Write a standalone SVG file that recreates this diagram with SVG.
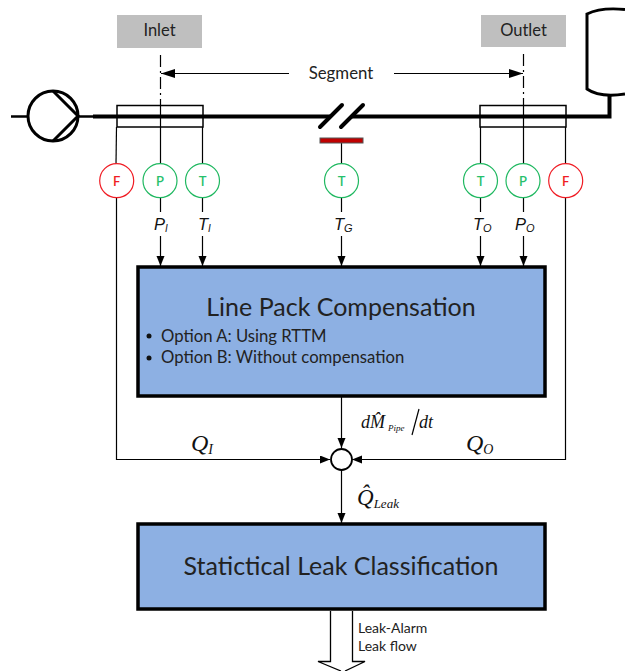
<svg xmlns="http://www.w3.org/2000/svg" width="625" height="671" viewBox="0 0 625 671">
<style>
.s{font-family:Lato,"Open Sans",sans-serif;fill:#222}
.m{font-family:"Liberation Serif",serif;font-style:italic;fill:#111}
.i{font-family:"Liberation Sans",sans-serif;font-style:italic;fill:#111}
.l{stroke:#000;stroke-width:1.2;fill:none}
.g{fill:#bfbfbf}
.b{fill:#8db0e3;stroke:#000;stroke-width:3.5}
.sg{fill:#fff;stroke:#1fb860;stroke-width:1.2}
.sr{fill:#fff;stroke:#f01c24;stroke-width:1.2}
.tg{font-family:Lato,sans-serif;font-size:13px;font-weight:600;fill:#26c06c;text-anchor:middle}
.tr{font-family:Lato,sans-serif;font-size:13px;font-weight:600;fill:#f01c24;text-anchor:middle}
</style>
<defs>
<marker id="a" markerWidth="12" markerHeight="10" refX="10" refY="4" orient="auto" markerUnits="userSpaceOnUse"><path d="M0 0L10 4L0 8z" fill="#000"/></marker>
<marker id="A" markerWidth="15" markerHeight="10" refX="14" refY="4.5" orient="auto" markerUnits="userSpaceOnUse"><path d="M0 0L14 4.5L0 9z" fill="#000"/></marker>
</defs>
<g id="connectors">
<path class="l" d="M160.500 55V105" stroke-dasharray="12 4 2 4"/>
<path class="l" d="M523.500 54V105" stroke-dasharray="12 4 2 4"/>
<path class="l" d="M289 73.500H161" marker-end="url(#A)"/>
<path class="l" d="M394 73.500H523" marker-end="url(#A)"/>
<path class="l" d="M116.500 127L116 164"/>
<path class="l" d="M160.500 105V164"/>
<path class="l" d="M202.500 127V164"/>
<path class="l" d="M341.500 143V164"/>
<path class="l" d="M480.500 127V164"/>
<path class="l" d="M523.500 105V164"/>
<path class="l" d="M565.500 127V164"/>
<path class="l" d="M160.500 198V212M160.500 236V266" marker-end="url(#a)"/>
<path class="l" d="M202.500 198V212M202.500 236V266" marker-end="url(#a)"/>
<path class="l" d="M341.500 198V212M341.500 236V266" marker-end="url(#a)"/>
<path class="l" d="M480.500 198V212M480.500 236V266" marker-end="url(#a)"/>
<path class="l" d="M523.500 198V212M523.500 236V266" marker-end="url(#a)"/>
<path class="l" d="M116.500 198V459.500H330" marker-end="url(#a)"/>
<path class="l" d="M565.500 198V459.500H352" marker-end="url(#a)"/>
<path class="l" d="M341.500 396V448" marker-end="url(#a)"/>
<path class="l" d="M341.500 470V523" marker-end="url(#a)"/>
</g>
<g id="pipe" fill="none" stroke="#000">
<path d="M11 116.500H28" stroke-width="2.500"/>
<circle cx="53" cy="116" r="25" stroke-width="3" fill="#fff"/>
<path d="M53 91L78 116L53 141" stroke-width="3"/>
<path d="M78 116.500H93" stroke-width="2.500"/>
<path d="M93 116.500H331" stroke-width="4"/>
<path d="M352 116.500H609.500V95" stroke-width="4"/>
<path d="M625 9.500C610 8 597 9 587 14V89C597 96 612 96 625 94" stroke-width="3"/>
<path d="M320 127L342 105M341 127L363 105" stroke-width="4" stroke-linecap="round"/>
</g>
<g id="inlet-section"><rect x="117" y="105.500" width="86" height="21.500" fill="none" stroke="#000" stroke-width="1.500"/></g>
<g id="outlet-section"><rect x="480" y="105.500" width="86" height="21.500" fill="none" stroke="#000" stroke-width="1.500"/></g>
<g id="heater"><rect x="320" y="138" width="43" height="5" fill="#c00000" stroke="#555" stroke-width="1"/></g>
<g id="inlet"><rect class="g" x="117" y="15" width="85" height="33"/><text class="s" x="159.500" y="36" font-size="16.500" text-anchor="middle">Inlet</text></g>
<g id="outlet"><rect class="g" x="481" y="15" width="85" height="32"/><text class="s" x="523.500" y="36" font-size="16.500" text-anchor="middle">Outlet</text></g>
<g id="segment"><text class="s" x="341" y="79" font-size="16.800" text-anchor="middle">Segment</text></g>
<g id="sensor-fi"><circle class="sr" cx="116.700" cy="180.700" r="17"/><text class="tr" x="116.700" y="185.500">F</text></g>
<g id="sensor-pi"><circle class="sg" cx="160" cy="180.700" r="17"/><text class="tg" x="160" y="185.500">P</text></g>
<g id="sensor-ti"><circle class="sg" cx="202.500" cy="180.700" r="17"/><text class="tg" x="202.500" y="185.500">T</text></g>
<g id="sensor-tg"><circle class="sg" cx="341.500" cy="180.700" r="17"/><text class="tg" x="341.500" y="185.500">T</text></g>
<g id="sensor-to"><circle class="sg" cx="480.500" cy="180.700" r="17"/><text class="tg" x="480.500" y="185.500">T</text></g>
<g id="sensor-po"><circle class="sg" cx="523" cy="180.700" r="17"/><text class="tg" x="523" y="185.500">P</text></g>
<g id="sensor-fo"><circle class="sr" cx="565.700" cy="180.700" r="17"/><text class="tr" x="565.700" y="185.500">F</text></g>
<g id="labels">
<text class="i" x="154" y="230" font-size="16.500">P<tspan font-size="10" dy="2">I</tspan></text>
<text class="i" x="198" y="230" font-size="16.500">T<tspan font-size="10" dy="2">I</tspan></text>
<text class="i" x="334" y="230" font-size="16.500">T<tspan font-size="11" dy="2">G</tspan></text>
<text class="i" x="473" y="230" font-size="16.500">T<tspan font-size="11" dy="2">O</tspan></text>
<text class="i" x="515" y="230" font-size="16.500">P<tspan font-size="11" dy="2">O</tspan></text>
<text class="m" x="191" y="451" font-size="24">Q<tspan font-size="14" dy="3">I</tspan></text>
<text class="m" x="466" y="451" font-size="24">Q<tspan font-size="14" dy="3">O</tspan></text>
<text class="m" x="361" y="428" font-size="18">dM̂<tspan font-size="9" dx="3" dy="3">Pipe</tspan></text>
<path d="M419 409L412 435" class="l"/>
<text class="m" x="419" y="428" font-size="18">dt</text>
<text class="m" x="357" y="505" font-size="23">Q̂<tspan font-size="13" dy="3">Leak</tspan></text>
</g>
<g id="compensation">
<rect class="b" x="138" y="267" width="407" height="129"/>
<text class="s" x="341" y="316" font-size="25" text-anchor="middle">Line Pack Compensation</text>
<circle cx="149" cy="336" r="2.500" fill="#111"/>
<text class="s" x="161" y="342" font-size="16.700">Option A: Using RTTM</text>
<circle cx="149" cy="358" r="2.500" fill="#111"/>
<text class="s" x="161" y="363" font-size="16.700">Option B: Without compensation</text>
</g>
<g id="summer"><circle cx="341.500" cy="459.500" r="10.500" fill="#fff" stroke="#000" stroke-width="1.800"/></g>
<g id="classification">
<rect class="b" x="138" y="524" width="407" height="85"/>
<text class="s" x="341" y="575" font-size="25" text-anchor="middle">Statictical Leak Classification</text>
</g>
<g id="output">
<path d="M330.500 611V661.500H318L341 671M352.500 611V661.500H365L345 671" fill="none" stroke="#000" stroke-width="1.300"/>
<text class="s" x="358" y="633" font-size="14">Leak-Alarm</text>
<text class="s" x="358" y="651" font-size="14">Leak flow</text>
</g>
</svg>
